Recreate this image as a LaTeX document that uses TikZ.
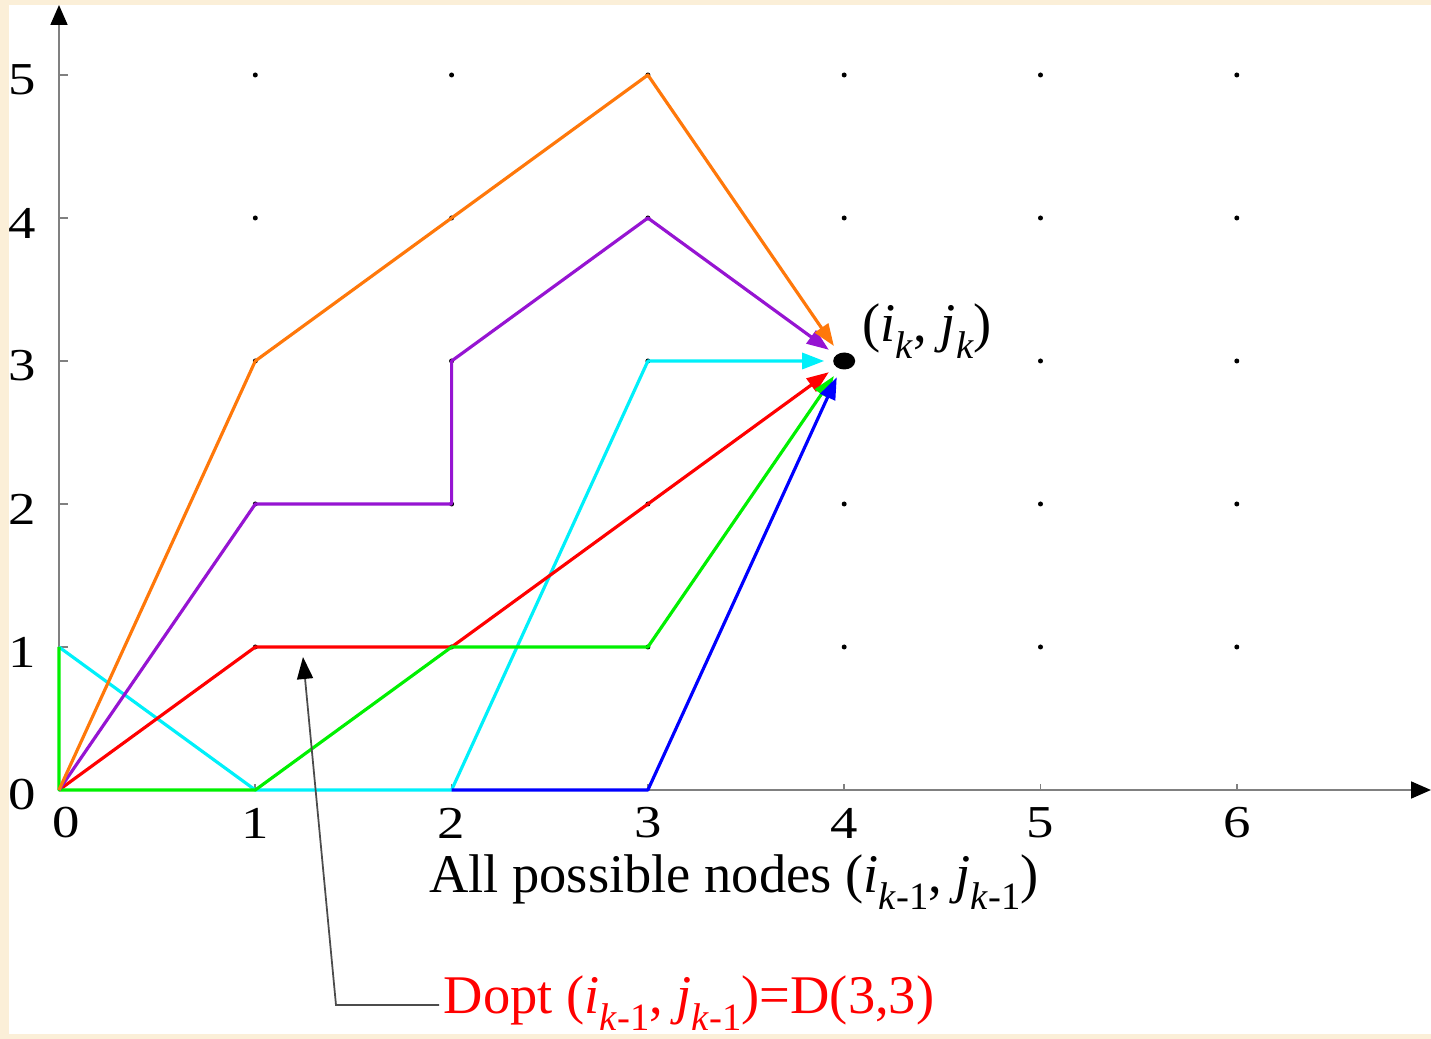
\documentclass[tikz,border=0pt]{standalone}
\usepackage{fontspec}
\setmainfont{Liberation Serif}
\usetikzlibrary{arrows.meta,shapes.geometric}
\definecolor{parch}{RGB}{251,239,216}
\definecolor{porange}{RGB}{255,120,10}
\definecolor{ppurple}{RGB}{150,20,210}
\definecolor{pcyan}{RGB}{0,240,250}
\definecolor{pgreen}{RGB}{0,240,0}
\newcommand\low[1]{\raisebox{-0.3em}{\fontsize{11}{12}\selectfont #1}}
\tikzset{
  axis/.style={gray, line width=0.5pt, -{Triangle[color=black,length=0.2cm,width=0.17cm]}},
  route/.style={line width=0.9pt, line join=round, -{Triangle[length=0.22cm,width=0.16cm]}},
  ticklabel/.style={font=\fontsize{13}{15}\selectfont},
  biglabel/.style={font=\fontsize{15.5}{18}\selectfont},
  target/.style={ellipse, fill=black, minimum width=0.22cm, minimum height=0.17cm, inner sep=0pt, outer sep=0.09cm}
}

\begin{document}
\begin{tikzpicture}[x=1.963cm, y=1.43cm]

    \fill[parch] (-0.59cm,-2.49cm) rectangle (13.72cm,7.90cm);
    \fill[white] (-0.50cm,-2.44cm) rectangle (13.72cm,7.85cm);
    \useasboundingbox (-0.59cm,-2.49cm) rectangle (13.72cm,7.90cm);

    \foreach \i in {0,...,6}
    \foreach \j in {0,...,5}
    \coordinate (p\i\j) at (\i,\j);

    \draw[axis] (p00) -- (13.72cm,0);
    \draw[axis] (p00) -- (0,7.85cm);
    \foreach \i in {1,...,6}
    \draw[gray, line width=0.5pt] (p\i0) -- ++(0,0.06cm);
    \foreach \j in {1,...,5}
    \draw[gray, line width=0.5pt] (p0\j) -- ++(0.09cm,0);

    \foreach \i in {1,...,6}
    \draw (p\i0) node[ticklabel, yshift=-0.33cm] {\scalebox{1.2}[1]{\i}};
    \draw (p00) node[ticklabel, xshift=0.07cm, yshift=-0.33cm] {\scalebox{1.2}[1]{0}};
    \foreach \j in {0,...,5}
    \draw (p0\j) node[ticklabel, anchor=east, xshift=-0.11cm, yshift=-0.05cm] {\scalebox{1.2}[1]{\j}};

    \foreach \i in {1,...,6}
    \foreach \j in {1,...,5}
    \fill (p\i\j) circle (0.025cm);

    \node[target] (ij) at (4,3) {};
    \draw (8.03cm,4.48cm) node[biglabel, anchor=base west, inner sep=0pt] (ijlabel) {(\textit{i}\low{\textit{k}}, \textit{j}\low{\textit{k}})};

    \draw[route, pcyan] (p01) -- (p10) -- (p20) -- (p33) -- (ij);
    \draw[route, red] (p00) -- (p11) -- (p21) -- (p32) -- (ij);
    \draw[route, pgreen] (p01) -- (p00) -- (p10) -- (p21) -- (p31) -- (ij);
    \draw[route, blue] (p20) -- (p30) -- (ij);
    \draw[route, ppurple] (p00) -- (p12) -- (p22) -- (p23) -- (p34) -- (ij);
    \draw[route, porange] (p00) -- (p13) -- (p24) -- (p35) -- (ij);

    \draw (6.75cm,-1.03cm) node[biglabel, anchor=base] (caption) {All possible nodes (\textit{i}\low{\textit{k}-1}, \textit{j}\low{\textit{k}-1})};

    \draw (3.84cm,-2.24cm) node[biglabel, red, anchor=base west, inner sep=0pt] (dopt) {Dopt (\textit{i}\low{\textit{k}-1}, \textit{j}\low{\textit{k}-1})=D(3,3)};
    \coordinate (bend) at (2.77cm,-2.15cm);
    \coordinate (tip) at (2.44cm,1.33cm);
    \draw[black!70, line width=0.5pt, -{Triangle[color=black,length=0.22cm,width=0.16cm]}] ([xshift=-0.04cm, yshift=0.09cm]dopt.base west) -- (bend) -- (tip);

\end{tikzpicture}
\end{document}
